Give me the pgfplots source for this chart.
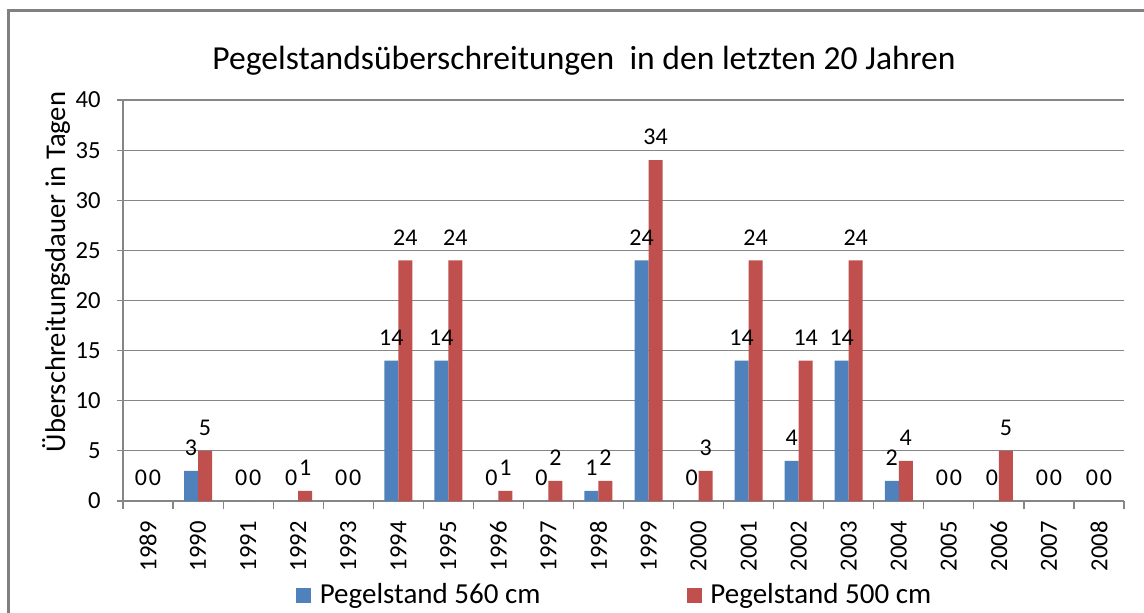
\documentclass[border=0pt]{standalone}
\usepackage{fontspec}
\setmainfont{Carlito}
\usepackage{pgfplots}
\pgfplotsset{compat=1.18}
\usepackage{pgfplotstable}
\definecolor{exblue}{HTML}{4F81BD}
\definecolor{exred}{HTML}{C0504D}
\definecolor{gridgray}{HTML}{868686}
\definecolor{framegray}{HTML}{808080}

\pgfplotstableread{
x year a b
0 1989 0 0
1 1990 3 5
2 1991 0 0
3 1992 0 1
4 1993 0 0
5 1994 14 24
6 1995 14 24
7 1996 0 1
8 1997 0 2
9 1998 1 2
10 1999 24 34
11 2000 0 3
12 2001 14 24
13 2002 4 14
14 2003 14 24
15 2004 2 4
16 2005 0 0
17 2006 0 5
18 2007 0 0
19 2008 0 0
}\datatable

\newcommand{\tickfont}{\fontsize{12.3}{15}\selectfont}
\newcommand{\labelfont}{\fontsize{12}{15}\selectfont}

\begin{document}
\begin{tikzpicture}[x=0.5pt,y=0.5pt]
\useasboundingbox (0,0) rectangle (1144,612);
\fill[white] (0,0) rectangle (1144,612);
\draw[framegray, line width=1.25pt] (8.5,-5) -- (8.5,601.5) -- (1150,601.5);
\node[font=\fontsize{16.8}{19}\selectfont] at (584,551) {Pegelstandsüberschreitungen\ \ in den letzten 20 Jahren};
\node[rotate=90, font=\fontsize{14.3}{16}\selectfont] at (56,340) {Überschreitungsdauer in Tagen};
\begin{axis}[
  at={(61.5pt,55.5pt)}, anchor=south west,
  scale only axis, width=500.5pt, height=200.5pt,
  xmin=-0.5, xmax=19.5, ymin=0, ymax=40,
  ytick={0,5,...,40},
  xtick={0,...,19},
  xticklabels={1989,1990,1991,1992,1993,1994,1995,1996,1997,1998,1999,2000,2001,2002,2003,2004,2005,2006,2007,2008},
  minor xtick={-0.5,0.5,...,19.5},
  axis x line*=bottom, axis y line*=left,
  axis line style={gridgray, line width=0.6pt, -},
  ymajorgrids, grid style={gridgray, line width=0.6pt},
  major x tick style={draw=none},
  minor x tick style={gridgray, line width=0.6pt},
  major y tick style={gridgray, line width=0.6pt},
  tick align=outside,
  minor tick length=4pt, major tick length=3pt,
  /pgf/number format/assume math mode=true,
  xticklabel style={font=\tickfont, rotate=90, anchor=east, inner sep=0pt},
  xticklabel shift=7pt,
  yticklabel style={font=\tickfont, inner sep=0pt, xshift=-8pt},
  ybar=0pt, bar width=7pt,
  nodes near coords,
  every node near coord/.append style={font=\labelfont, anchor=center, yshift=11.5pt, black},
  legend columns=2,
  legend style={draw=none, fill=none, at={(axis description cs:0.492,-0.235)}, anchor=center,
    font=\fontsize{14.5}{17}\selectfont,
    /tikz/every even column/.append style={column sep=71pt},
    /tikz/every odd column/.append style={column sep=2.5pt}},
  legend image code/.code={\fill[#1] (0pt,-3.75pt) rectangle (7.5pt,3.75pt);},
]
\addplot[fill=exblue, draw=none] table[x=x, y=a] {\datatable};
\addplot[fill=exred, draw=none] table[x=x, y=b] {\datatable};
\legend{Pegelstand 560 cm, Pegelstand 500 cm}
\end{axis}
\end{tikzpicture}
\end{document}
